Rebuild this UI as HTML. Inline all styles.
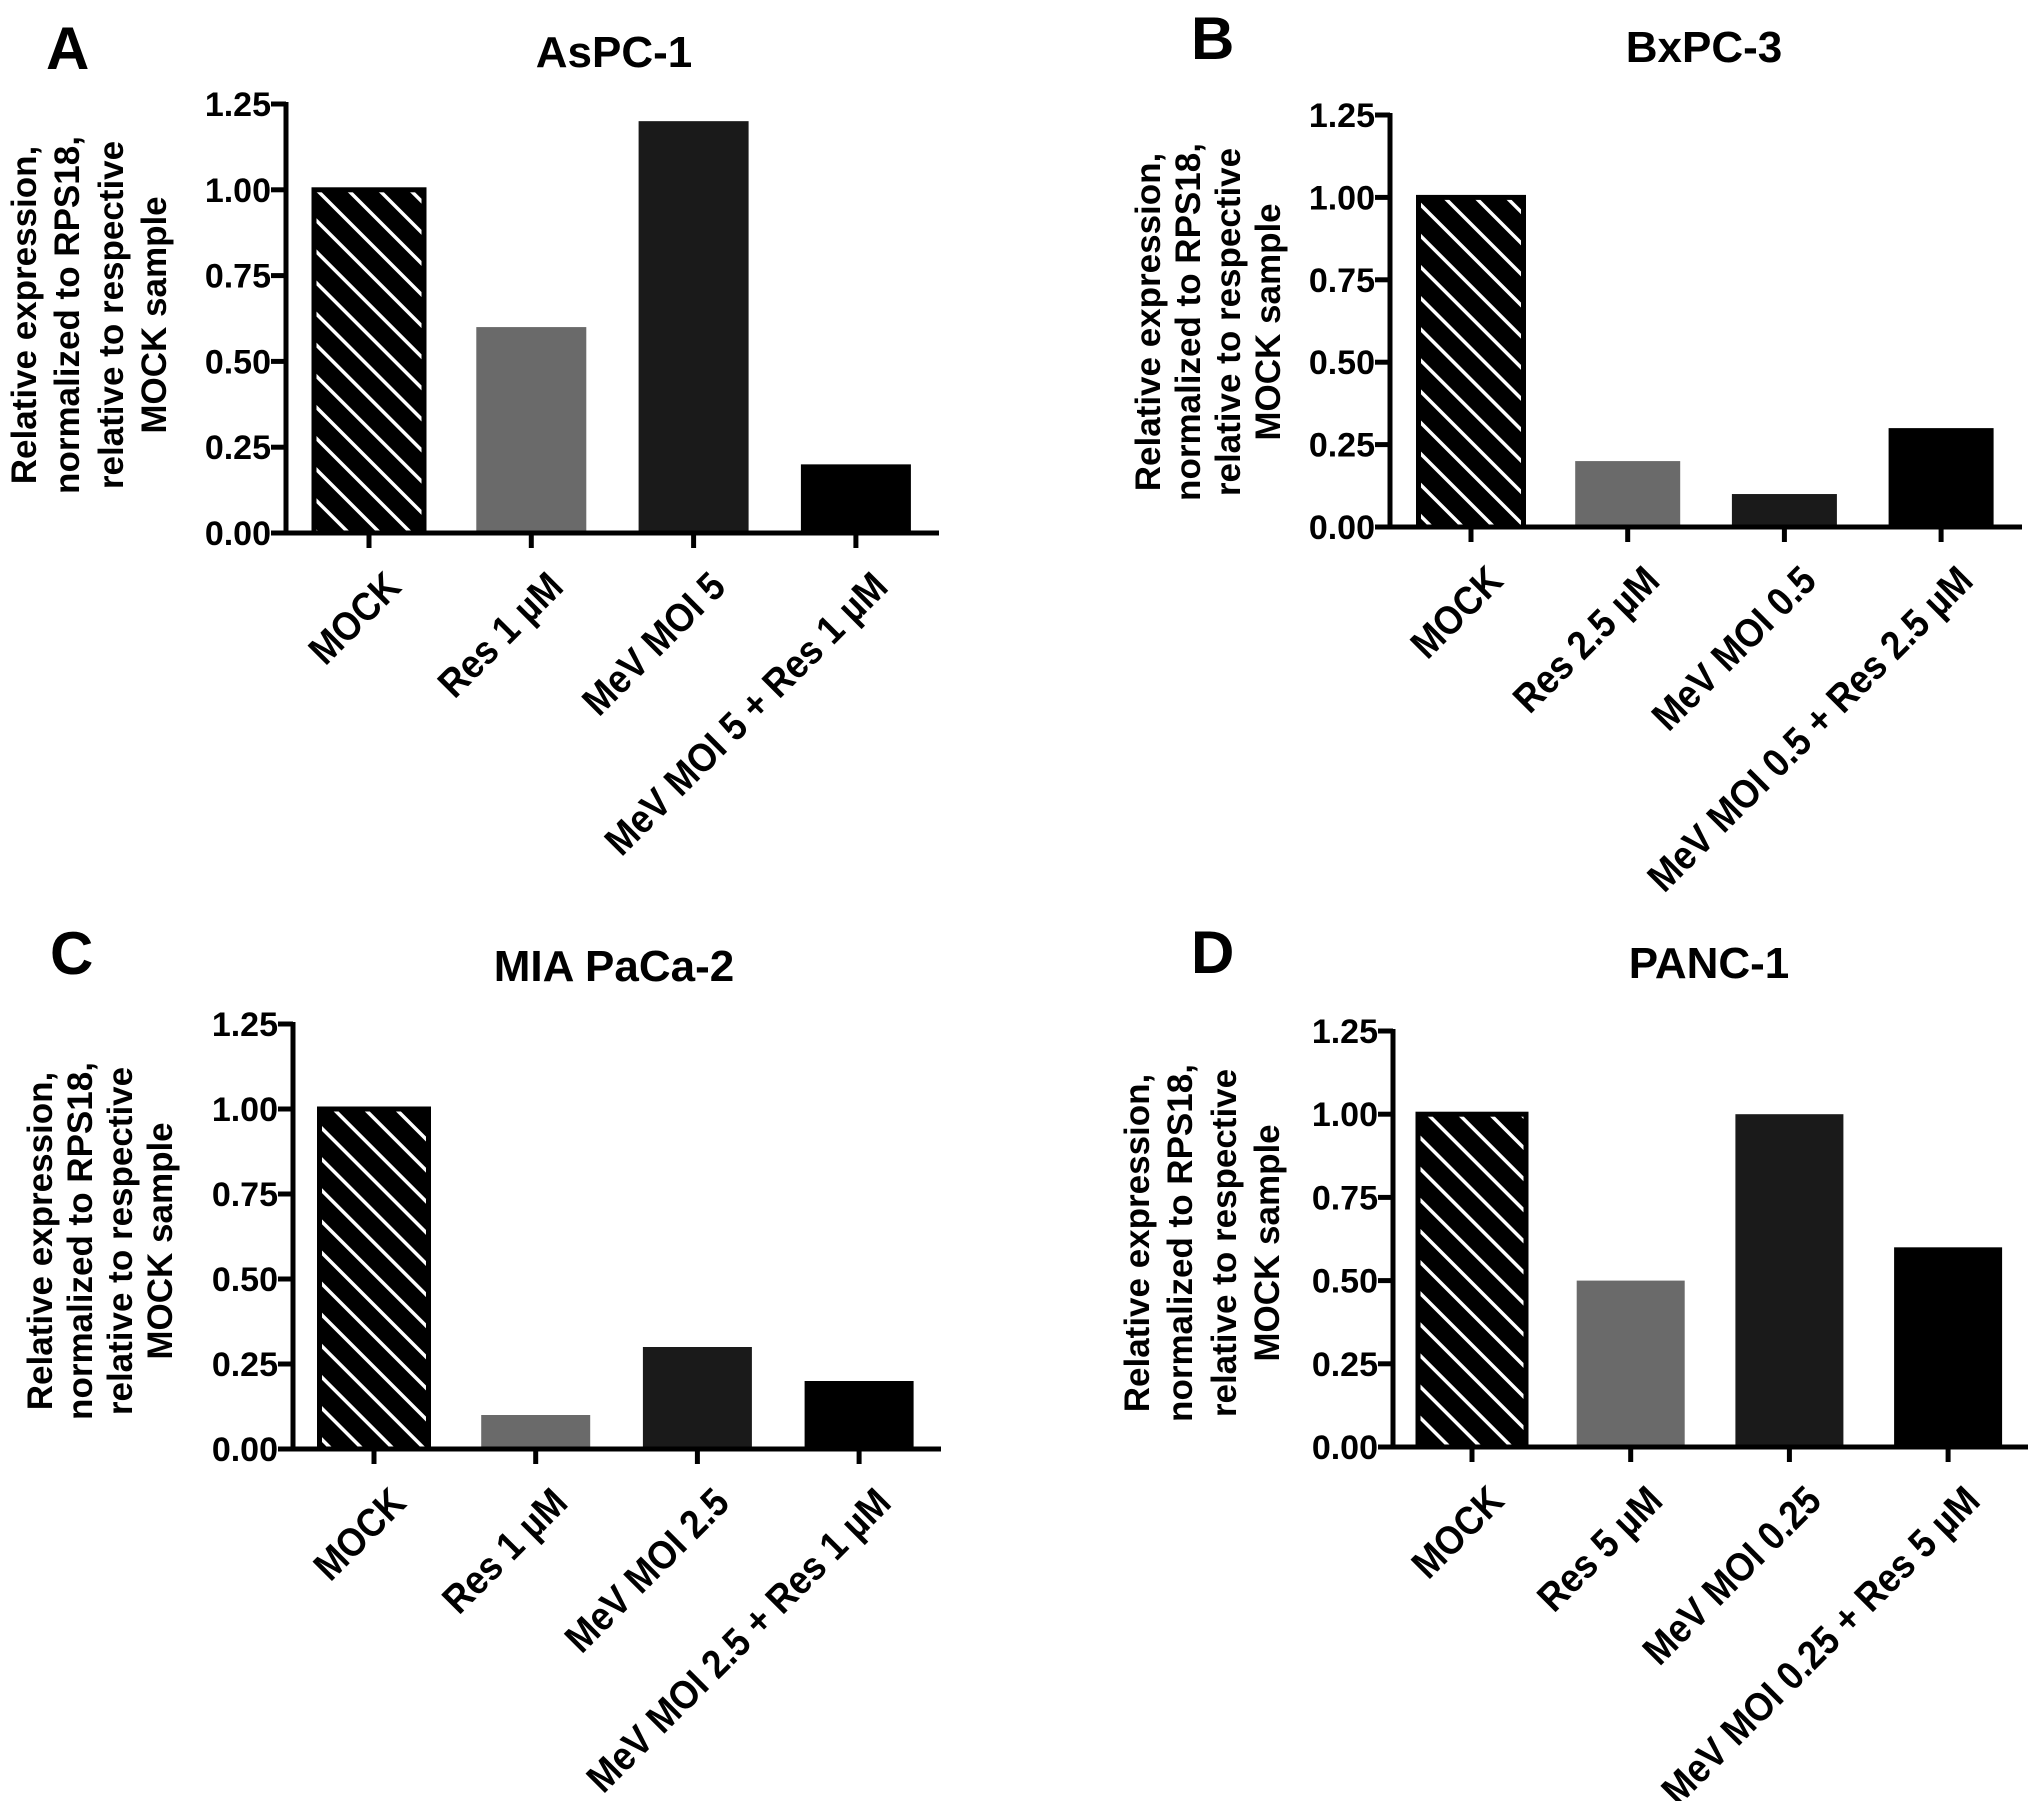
<!DOCTYPE html>
<html><head><meta charset="utf-8">
<style>
html,body{margin:0;padding:0;background:#fff;}
svg{display:block;font-family:"Liberation Sans",Arial,sans-serif;font-weight:bold;}
</style></head>
<body>
<svg id="fig" width="2031" height="1801" viewBox="0 0 2031 1801" xmlns="http://www.w3.org/2000/svg">
<defs>
<pattern id="hatch" patternUnits="userSpaceOnUse" width="22" height="22" patternTransform="rotate(-45)">
<rect width="22" height="22" fill="#000"/>
<rect x="0" y="0" width="3.5" height="22" fill="#fff"/>
</pattern>
</defs>
</svg>
<script>
// ---- data ----
const yTicks = [0, 0.25, 0.5, 0.75, 1.0, 1.25];
const yTickLabels = ["0.00", "0.25", "0.50", "0.75", "1.00", "1.25"];
const titlesArr = ["AsPC-1", "BxPC-3", "MIA PaCa-2", "PANC-1"];
const lettersArr = ["A", "B", "C", "D"];
const catsA = ["MOCK", "Res 1 µM", "MeV MOI 5", "MeV MOI 5  + Res 1 µM"];
const catsB = ["MOCK", "Res 2.5 µM", "MeV MOI 0.5", "MeV MOI 0.5 + Res 2.5 µM"];
const catsC = ["MOCK", "Res 1 µM", "MeV MOI 2.5", "MeV MOI 2.5  + Res 1 µM"];
const catsD = ["MOCK", "Res 5 µM", "MeV MOI 0.25", "MeV MOI 0.25  + Res 5 µM"];
const valsA = [1.0, 0.6, 1.2, 0.2];
const valsB = [1.0, 0.2, 0.1, 0.3];
const valsC = [1.0, 0.1, 0.3, 0.2];
const valsD = [1.0, 0.5, 1.0, 0.6];
const yLabelLines = ["Relative expression,", "normalized to RPS18,", "relative to respective", "MOCK sample"];

// ---- layout ----
const layouts = [
 {ax:286,y0:533,yTop:104,xEnd:939,first:369,step:162.3,bw:110,tx:614,ty:67,lx:46,ly:69,ylx:[23,66,110,153],ylc:315},
 {ax:1390,y0:527,yTop:115,xEnd:2022,first:1471,step:156.7,bw:105,tx:1704,ty:62,lx:1191,ly:59,ylx:[1147,1187,1227,1267],ylc:322},
 {ax:293,y0:1449,yTop:1024,xEnd:941,first:374,step:161.7,bw:109,tx:614,ty:981,lx:50,ly:974,ylx:[39,79,119,159],ylc:1241},
 {ax:1393,y0:1447,yTop:1031,xEnd:2028,first:1472,step:158.7,bw:108,tx:1709,ty:978,lx:1191,ly:973,ylx:[1136,1179,1223,1266],ylc:1243}
];
const allCats = [catsA, catsB, catsC, catsD];
const allVals = [valsA, valsB, valsC, valsD];
const fills = ["url(#hatch)", "#6a6a6a", "#1a1a1a", "#000"];
const NS = "http://www.w3.org/2000/svg";
const svg = document.getElementById("fig");
function mk(tag, attrs, parent) {
  const e = document.createElementNS(NS, tag);
  for (const k in attrs) e.setAttribute(k, attrs[k]);
  (parent || svg).appendChild(e);
  return e;
}

layouts.forEach((L, p) => {
  const g = mk("g", {});
  
  
  const yScale = v => L.y0 - (v / 1.25) * (L.y0 - L.yTop);
  const xScale = i => L.first + i * L.step;

  const letter = mk("text", {x:L.lx, y:L.ly, "font-size":60}, g);
  letter.textContent = lettersArr[p];
  
  

  const title = mk("text", {x:L.tx, y:L.ty, "font-size":44, "text-anchor":"middle"}, g);
  title.textContent = titlesArr[p];
  
  

  allVals[p].forEach((v, i) => {
    const cx = xScale(i);
    const yt = yScale(v);
    const r = mk("rect", {x:cx - L.bw/2, y:yt, width:L.bw, height:L.y0 - yt, fill:fills[i]}, g);
    if (i === 0) { r.setAttribute("stroke", "#000"); r.setAttribute("stroke-width", "5"); }
    
    
  });

  const yAxis = mk("line", {x1:L.ax, y1:L.yTop - 2, x2:L.ax, y2:L.y0 + 2, stroke:"#000", "stroke-width":5}, g);
  
  
  yTicks.forEach((t, k) => {
    const y = yScale(t);
    const tk = mk("line", {x1:L.ax - 15, y1:y, x2:L.ax, y2:y, stroke:"#000", "stroke-width":5}, g);
    
    
    const tl = mk("text", {x:L.ax - 15, y:y + 12, "font-size":34, "text-anchor":"end"}, g);
    tl.textContent = yTickLabels[k];
    
    
  });

  const xAxis = mk("line", {x1:L.ax - 2, y1:L.y0, x2:L.xEnd, y2:L.y0, stroke:"#000", "stroke-width":5}, g);
  
  
  allCats[p].forEach((c, i) => {
    const x = xScale(i);
    const tk = mk("line", {x1:x, y1:L.y0, x2:x, y2:L.y0 + 15, stroke:"#000", "stroke-width":5}, g);
    
    
    const ax = x + 34, ay = L.y0 + 56;
    const tl = mk("text", {x:0, y:0, "font-size":40, "text-anchor":"end", transform:"translate(" + ax + " " + ay + ") rotate(-45) scale(0.9 1)"}, g);
    tl.textContent = c;
    
    
  });

  yLabelLines.forEach((line, k) => {
    const bx = L.ylx[k] + 13, by = L.ylc;
    const t = mk("text", {x:bx, y:by, "font-size":35, "text-anchor":"middle", transform:"rotate(-90 " + bx + " " + by + ")"}, g);
    t.textContent = line;
    
    
  });
});
</script>
</body></html>
